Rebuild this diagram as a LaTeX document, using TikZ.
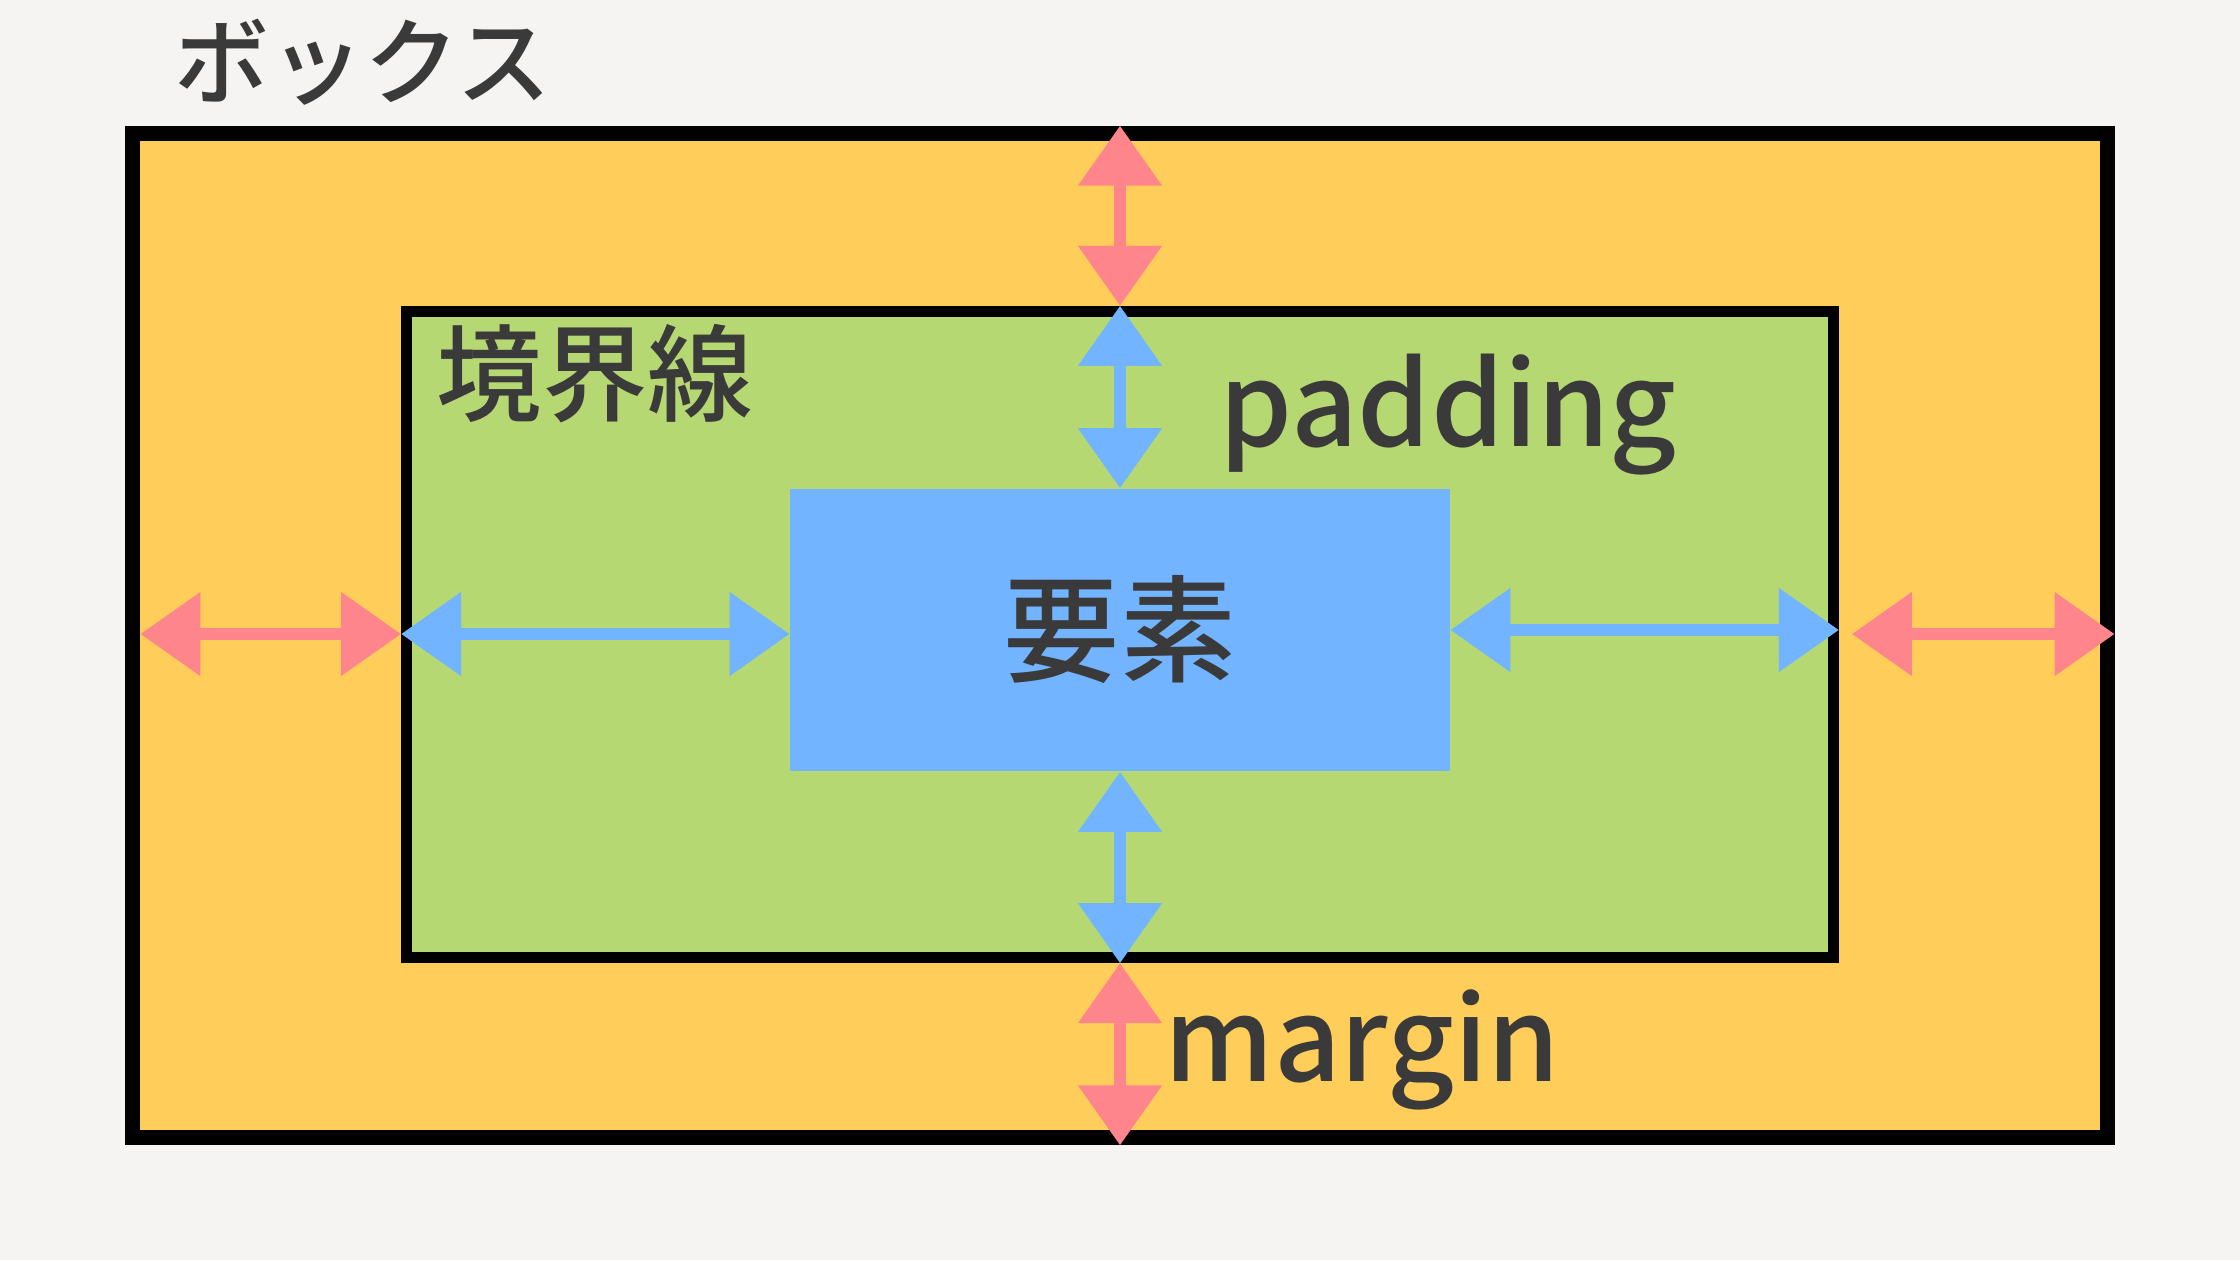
\documentclass[tikz,border=0pt]{standalone}
\usepackage{fontspec}
\setmainfont{Noto Sans CJK JP}[UprightFont={* Medium}]
\usetikzlibrary{arrows.meta,calc}
\definecolor{bgcol}{HTML}{F5F4F2}
\definecolor{boxyellow}{HTML}{FFCD5A}
\definecolor{padgreen}{HTML}{B5D873}
\definecolor{elemblue}{HTML}{72B4FF}
\definecolor{marginred}{HTML}{FF858C}
\definecolor{textgray}{HTML}{3A3A3A}

\begin{document}
\begin{tikzpicture}[x=0.01cm, y=-0.01cm,
    framebox/.style={rectangle, draw=black, inner sep=0pt},
    txt/.style={inner sep=0pt, text=textgray},
    dblarrow/.style={<->, >={Triangle[length=6mm,width=8.1mm]}, line width=1.2mm},
    marginarrow/.style={dblarrow, draw=marginred},
    padarrow/.style={dblarrow, draw=elemblue}]
    \fill[bgcol] (0,0) rectangle (2240,1260);
    \useasboundingbox (0,0) rectangle (2240,1260);

    \node (box) [framebox, fill=boxyellow, line width=1.5mm, minimum width=19.73cm, minimum height=10.04cm] at (1120,635.5) {};
    \node (border) [framebox, fill=padgreen, line width=1.1mm, minimum width=14.26cm, minimum height=6.46cm] at (1120,634.5) {};
    \node (elem) [rectangle, fill=elemblue, inner sep=0pt, text=textgray, minimum width=6.59cm, minimum height=2.82cm, font=\fontsize{33}{33}\selectfont] at (1120,630) {要素};

    \node (boxlabel) [txt, anchor=west, font=\fontsize{27}{27}\selectfont] at (174,62) {ボックス};
    \node (borderlabel) [txt, anchor=west, font=\fontsize{30}{30}\selectfont] at (436,374) {境界線};
    \node (padlabel) [txt, anchor=base west, font=\fontsize{33}{33}\selectfont] at (1219,446) {padding};
    \node (marginlabel) [txt, anchor=base west, font=\fontsize{33}{33}\selectfont] at (1164,1081) {margin};

    % Pfeile
    \draw[marginarrow] (box.north -| elem) -- (border.north -| elem);
    \draw[padarrow] (border.north -| elem) -- (elem.north);
    \draw[padarrow] (elem.south) -- (border.south -| elem);
    \draw[marginarrow] (border.south -| elem) -- (box.south -| elem);
    \draw[marginarrow] ($(box.west |- elem)+(15,4)$) -- ($(border.west |- elem)+(0,4)$);
    \draw[padarrow] ($(border.west |- elem)+(0,4)$) -- ($(elem.west)+(0,4)$);
    \draw[padarrow] (elem.east) -- (border.east |- elem);
    \draw[marginarrow] ($(border.east |- elem)+(13,4)$) -- ($(box.east |- elem)+(0,4)$);
\end{tikzpicture}
\end{document}
